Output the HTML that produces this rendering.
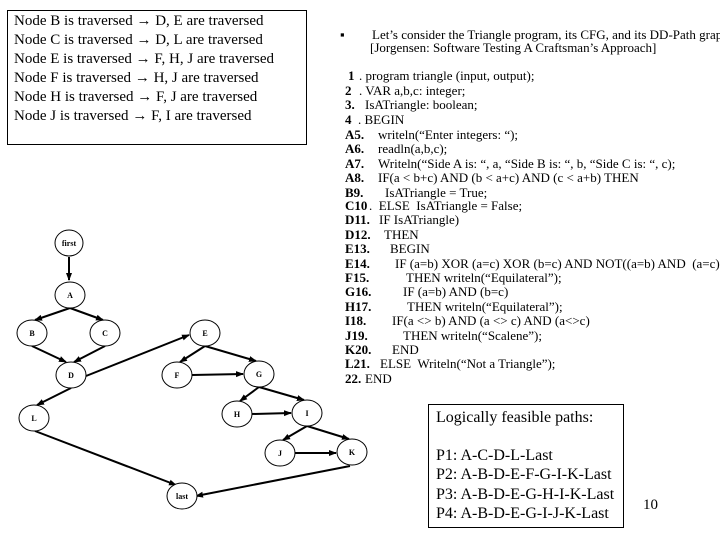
<!DOCTYPE html>
<html><head><meta charset="utf-8"><style>
body{margin:0;width:720px;height:540px;background:#fff;position:relative;overflow:hidden;font-family:"Liberation Serif",serif;color:#000}
.t{position:absolute;white-space:nowrap;line-height:16px}
.n{font-size:15px;left:14px}
.c{font-size:13px}
.c b{position:absolute;left:0}
.p{font-size:16px;left:436px;position:absolute;white-space:nowrap;line-height:18px}
</style></head><body>
<div style="position:absolute;left:7px;top:10px;width:298px;height:133px;border:1px solid #000"></div>
<div class="t n" style="top:13px">Node B is traversed <b>→</b> D, E are traversed</div>
<div class="t n" style="top:32px">Node C is traversed <b>→</b> D, L are traversed</div>
<div class="t n" style="top:51px">Node E is traversed <b>→</b> F, H, J are traversed</div>
<div class="t n" style="top:70px">Node F is traversed <b>→</b> H, J are traversed</div>
<div class="t n" style="top:89px">Node H is traversed <b>→</b> F, J are traversed</div>
<div class="t n" style="top:108px">Node J is traversed <b>→</b> F, I are traversed</div>

<div class="t c" style="left:340px;top:27px">▪</div>
<div class="t c" style="left:372px;top:27px">Let’s consider the Triangle program, its CFG, and its DD-Path graph.</div>
<div class="t c" style="left:370px;top:40px">[Jorgensen: Software Testing A Craftsman’s Approach]</div>

<div style="position:absolute;left:345px;top:0;width:375px">
<div class="t c" style="top:68px;left:3px"><b>1</b><span style="margin-left:11px">. program triangle (input, output);</span></div>
<div class="t c" style="top:83px;left:0"><b>2</b><span style="margin-left:14px">. VAR a,b,c: integer;</span></div>
<div class="t c" style="top:97px;left:0"><b>3.</b><span style="margin-left:20px">IsATriangle: boolean;</span></div>
<div class="t c" style="top:112px;left:0"><b>4</b><span style="margin-left:13px">. BEGIN</span></div>
<div class="t c" style="top:127px"><b>A5.</b><span style="position:absolute;left:33px">writeln(“Enter integers: “);</span></div>
<div class="t c" style="top:141px"><b>A6.</b><span style="position:absolute;left:33px">readln(a,b,c);</span></div>
<div class="t c" style="top:156px"><b>A7.</b><span style="position:absolute;left:33px">Writeln(“Side A is: “, a, “Side B is: “, b, “Side C is: “, c);</span></div>
<div class="t c" style="top:170px"><b>A8.</b><span style="position:absolute;left:33px">IF(a &lt; b+c) AND (b &lt; a+c) AND (c &lt; a+b) THEN</span></div>
<div class="t c" style="top:185px"><b>B9.</b><span style="position:absolute;left:40px">IsATriangle = True;</span></div>
<div class="t c" style="top:198px"><b>C10</b><span style="position:absolute;left:24px">.&nbsp; ELSE&nbsp; IsATriangle = False;</span></div>
<div class="t c" style="top:212px"><b>D11.</b><span style="position:absolute;left:34px">IF IsATriangle)</span></div>
<div class="t c" style="top:227px"><b>D12.</b><span style="position:absolute;left:39px">THEN</span></div>
<div class="t c" style="top:241px"><b>E13.</b><span style="position:absolute;left:45px">BEGIN</span></div>
<div class="t c" style="top:256px"><b>E14.</b><span style="position:absolute;left:50px">IF (a=b) XOR (a=c) XOR (b=c) AND NOT((a=b) AND&nbsp; (a=c)</span></div>
<div class="t c" style="top:270px"><b>F15.</b><span style="position:absolute;left:61px">THEN writeln(“Equilateral”);</span></div>
<div class="t c" style="top:284px"><b>G16.</b><span style="position:absolute;left:58px">IF (a=b) AND (b=c)</span></div>
<div class="t c" style="top:299px"><b>H17.</b><span style="position:absolute;left:62px">THEN writeln(“Equilateral”);</span></div>
<div class="t c" style="top:313px"><b>I18.</b><span style="position:absolute;left:47px">IF(a &lt;&gt; b) AND (a &lt;&gt; c) AND (a&lt;&gt;c)</span></div>
<div class="t c" style="top:328px"><b>J19.</b><span style="position:absolute;left:58px">THEN writeln(“Scalene”);</span></div>
<div class="t c" style="top:342px"><b>K20.</b><span style="position:absolute;left:47px">END</span></div>
<div class="t c" style="top:356px"><b>L21.</b><span style="position:absolute;left:35px">ELSE&nbsp; Writeln(“Not a Triangle”);</span></div>
<div class="t c" style="top:371px"><b>22.</b><span style="position:absolute;left:20px">END</span></div>
</div>

<div style="position:absolute;left:428px;top:404px;width:194px;height:122px;border:1px solid #000"></div>
<div class="p" style="top:409px">Logically feasible paths:</div>
<div class="p" style="top:447px">P1: A-C-D-L-Last</div>
<div class="p" style="top:466px">P2: A-B-D-E-F-G-I-K-Last</div>
<div class="p" style="top:486px">P3: A-B-D-E-G-H-I-K-Last</div>
<div class="p" style="top:505px">P4: A-B-D-E-G-I-J-K-Last</div>
<div class="t" style="left:643px;top:497px;font-size:15px">10</div>

<svg width="720" height="540" style="position:absolute;left:0;top:0" font-family="Liberation Serif" font-weight="bold" font-size="8">
<defs><marker id="a" markerWidth="8" markerHeight="8" refX="7" refY="4" orient="auto" markerUnits="userSpaceOnUse"><path d="M0,1 L8,4 L0,7 z"/></marker></defs>
<g stroke="#000" stroke-width="2" marker-end="url(#a)">
<line x1="69" y1="257" x2="69" y2="280"/>
<line x1="70" y1="308" x2="35" y2="320"/>
<line x1="70" y1="308" x2="103" y2="320"/>
<line x1="32" y1="346" x2="66" y2="362"/>
<line x1="105" y1="346" x2="74" y2="362"/>
<line x1="86" y1="376" x2="189" y2="335"/>
<line x1="205" y1="346" x2="180" y2="362"/>
<line x1="205" y1="346" x2="256" y2="361"/>
<line x1="192" y1="375" x2="243" y2="374"/>
<line x1="71" y1="388" x2="37" y2="405"/>
<line x1="259" y1="387" x2="240" y2="401"/>
<line x1="259" y1="387" x2="304" y2="400"/>
<line x1="252" y1="414" x2="291" y2="413"/>
<line x1="307" y1="426" x2="283" y2="440"/>
<line x1="307" y1="426" x2="349" y2="439"/>
<line x1="295" y1="453" x2="336" y2="453"/>
<line x1="35" y1="431" x2="176" y2="485"/>
<line x1="350" y1="466" x2="196" y2="496"/>
</g>
<g fill="#fff" stroke="#000" stroke-width="1">
<ellipse cx="69" cy="243" rx="14" ry="13"/><ellipse cx="70" cy="295" rx="15" ry="13"/>
<ellipse cx="32" cy="333" rx="15" ry="13"/><ellipse cx="105" cy="333" rx="15" ry="13"/>
<ellipse cx="205" cy="333" rx="15" ry="13"/><ellipse cx="71" cy="375" rx="15" ry="13"/>
<ellipse cx="177" cy="375" rx="15" ry="13"/><ellipse cx="259" cy="374" rx="15" ry="13"/>
<ellipse cx="34" cy="418" rx="15" ry="13"/><ellipse cx="237" cy="414" rx="15" ry="13"/>
<ellipse cx="307" cy="413" rx="15" ry="13"/><ellipse cx="280" cy="453" rx="15" ry="13"/>
<ellipse cx="352" cy="452" rx="15" ry="13"/><ellipse cx="182" cy="496" rx="15" ry="13"/>
</g>
<g text-anchor="middle">
<text x="69" y="246">first</text><text x="70" y="298">A</text><text x="32" y="336">B</text><text x="105" y="336">C</text>
<text x="205" y="336">E</text><text x="71" y="378">D</text><text x="177" y="378">F</text><text x="259" y="377">G</text>
<text x="34" y="421">L</text><text x="237" y="417">H</text><text x="307" y="416">I</text><text x="280" y="456">J</text>
<text x="352" y="455">K</text><text x="182" y="499">last</text>
</g>
</svg>
</body></html>
